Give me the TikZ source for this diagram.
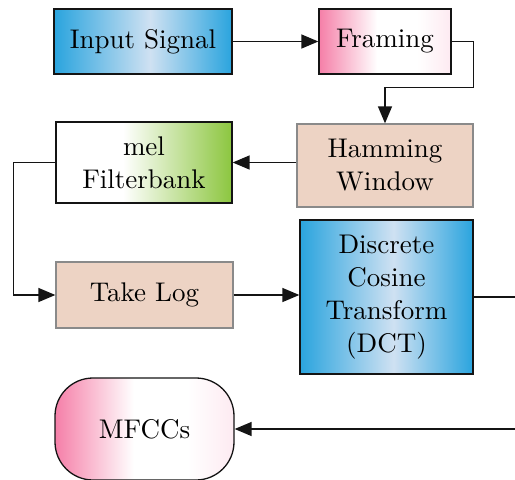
\documentclass[tikz,border=0pt]{standalone}
\usepackage{fontspec}
\setmainfont{lmroman10-regular}[Extension=.otf]
\usetikzlibrary{arrows.meta,calc}

\definecolor{skyblue}{HTML}{2AA4DE}
\definecolor{paleblue}{HTML}{CFE1F2}
\definecolor{rosepink}{HTML}{F57FA8}
\definecolor{blushpink}{HTML}{FDEAF1}
\definecolor{leafgreen}{HTML}{8CC63F}
\definecolor{sandbeige}{HTML}{EDD3C4}
\definecolor{framegray}{HTML}{8A8A8A}
\definecolor{inkblack}{HTML}{141414}

% horizontal fills; the path spans the 25bp--75bp part of each shading
\pgfdeclarehorizontalshading{blueglow}{100bp}{color(0bp)=(skyblue); color(25bp)=(skyblue);
  color(52bp)=(paleblue); color(75bp)=(skyblue); color(100bp)=(skyblue)}
\pgfdeclarehorizontalshading{pinkfade}{100bp}{color(0bp)=(rosepink); color(25bp)=(rosepink);
  color(47bp)=(white); color(62bp)=(white); color(75bp)=(blushpink); color(100bp)=(blushpink)}
\pgfdeclarehorizontalshading{greenfade}{100bp}{color(0bp)=(white); color(25bp)=(white);
  color(44bp)=(white); color(75bp)=(leafgreen); color(100bp)=(leafgreen)}

\tikzset{
  stagebox/.style={draw=inkblack, line width=1.3pt, align=center, inner sep=2pt,
    font=\fontsize{27}{33}\selectfont},
  bluebox/.style={stagebox, shading=blueglow},
  pinkbox/.style={stagebox, shading=pinkfade},
  greenbox/.style={stagebox, shading=greenfade},
  beigebox/.style={stagebox, draw=framegray, fill=sandbeige},
  flow/.style={line width=1.4pt, draw=inkblack, -{Triangle[length=17pt,width=14pt]}}
}

\begin{document}
\begin{tikzpicture}[x=1pt,y=-1pt]
  \useasboundingbox (0,0) rectangle (515,480);
  \clip (0,0) rectangle (515,480);

  % processing stages
  \node[bluebox, minimum width=178pt, minimum height=65pt] (input) at (143,41.5) {Input Signal};
  \node[pinkbox, minimum width=132pt, minimum height=65pt] (framing) at (385,41.5) {Framing};
  \node[beigebox, minimum width=176pt, minimum height=83pt] (hamming) at (385,165.5) {Hamming\\Window};
  \node[greenbox, minimum width=176pt, minimum height=81pt] (mel) at (144,162.5) {mel\\Filterbank};
  \node[beigebox, minimum width=177pt, minimum height=66pt] (takelog) at (144.5,295) {Take Log};
  \node[bluebox, minimum width=173pt, minimum height=154pt] (dct) at (386.5,297) {Discrete\\Cosine\\Transform\\(DCT)};
  \node[pinkbox, rounded corners=38pt, minimum width=179pt, minimum height=102pt] (mfcc) at (144.5,429) {MFCCs};

  % connectors
  \draw[flow] (input.east) -- (framing.west);
  \draw[flow] (framing.east) -- ++(22,0) |- ($(hamming.north)+(0,-36)$) -- (hamming.north);
  \draw[flow] (mel.east -| hamming.west) -- (mel.east);
  \draw[flow] (mel.west) -- ++(-42,0) |- (takelog.west);
  \draw[flow] (takelog.east) -- (takelog.east -| dct.west);
  \draw[flow] (dct.east) -- ++(70,0) |- (mfcc.east);
\end{tikzpicture}
\end{document}
